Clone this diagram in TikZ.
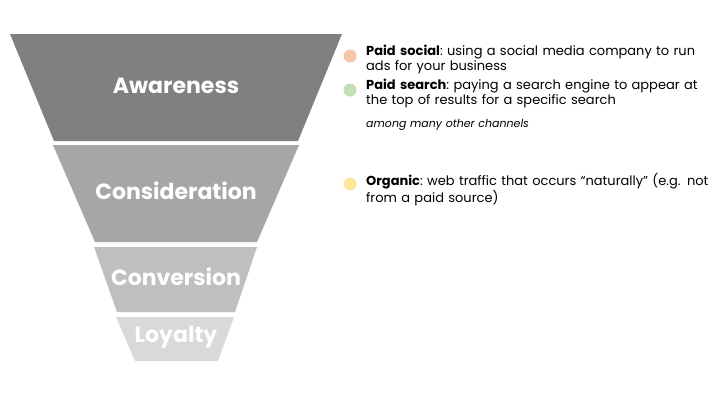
\documentclass[tikz,border=0pt]{standalone}
\usepackage{fontspec}
\setmainfont{Poppins}
\usetikzlibrary{positioning}
\definecolor{stageA}{HTML}{808080}
\definecolor{stageB}{HTML}{A6A6A6}
\definecolor{stageC}{HTML}{BFBFBF}
\definecolor{stageD}{HTML}{D9D9D9}
\definecolor{dotsocial}{HTML}{F4C7A8}
\definecolor{dotsearch}{HTML}{C5DEB5}
\definecolor{dotorganic}{HTML}{FDE59A}
\tikzset{stage/.style={font=\bfseries\fontsize{22}{24}\selectfont,text=white},
note/.style={anchor=north west,align=left,text width=350pt,inner sep=0pt,font=\fontsize{13}{15}\selectfont},
dot/.style={circle,minimum size=13pt,inner sep=0pt}}
\begin{document}
\begin{tikzpicture}[x=1pt,y=-1pt]
\useasboundingbox (0,0) rectangle (720,405);
\fill[stageA] (10,34) -- (342,34) -- (298,141) -- (54,141) -- cycle;
\fill[stageB] (53,145) -- (299,145) -- (257,242) -- (95,242) -- cycle;
\fill[stageC] (94,247) -- (257,247) -- (235,312) -- (117,312) -- cycle;
\fill[stageD] (116,317) -- (234,317) -- (218,361) -- (135,361) -- cycle;
\node[stage] (aw) at (176,86) {Awareness};
\node[stage] (co) at (176,191) {Consideration};
\node[stage] (cv) at (176,277) {Conversion};
\node[stage] (lo) at (176,337) {Loyalty};

\node[dot,fill=dotsocial] (d1) at (350,56) {};
\node[dot,fill=dotsearch] (d2) at (350,90) {};
\node[dot,fill=dotorganic] (d3) at (350,184) {};
\node[note] (t1) at (366,45) {\textbf{Paid social}:~using a social media company to run\\ads for your business};
\node[note] (t2) at (366,79) {\textbf{Paid search}:~paying a search engine to appear at\\the top of results for a specific search};
\node[note,font=\itshape\fontsize{11}{13}\selectfont] (t3) at (366,119) {among many other channels};
\node[note] (t4) at (366,173) {\textbf{Organic}:~web traffic that occurs “naturally” (e.g. not\\from a paid source)};
\end{tikzpicture}
\end{document}
